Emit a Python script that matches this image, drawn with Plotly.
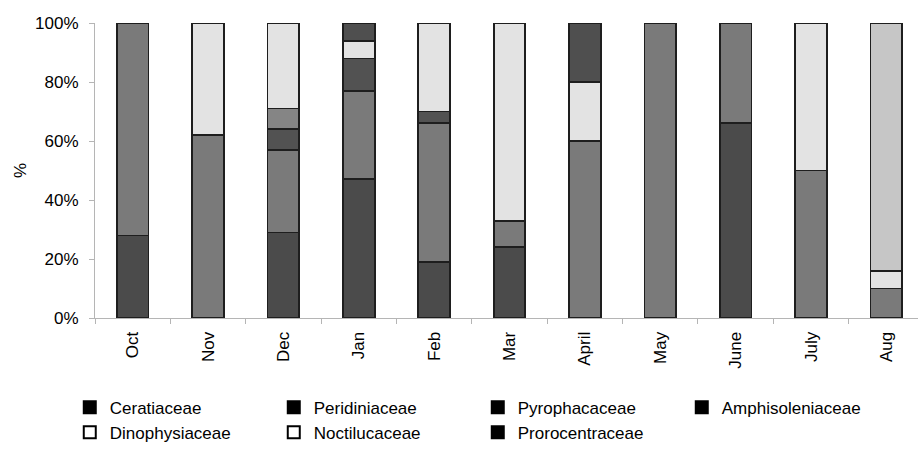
import plotly.graph_objects as go

months = ["Oct", "Nov", "Dec", "Jan", "Feb", "Mar", "April", "May", "June", "July", "Aug"]

ceratiaceae      = [28, 0, 29, 47, 19, 24, 0, 0, 66, 0, 0]
peridiniaceae    = [72, 62, 28, 30, 47, 9, 60, 100, 34, 50, 10]
pyrophacaceae    = [0, 0, 7, 11, 4, 0, 0, 0, 0, 0, 0]
amphisoleniaceae = [0, 0, 7, 0, 0, 0, 0, 0, 0, 0, 0]
dinophysiaceae   = [0, 38, 29, 6, 30, 67, 20, 0, 0, 50, 6]
noctilucaceae    = [0, 0, 0, 0, 0, 0, 0, 0, 0, 0, 84]
prorocentraceae  = [0, 0, 0, 6, 0, 0, 20, 0, 0, 0, 0]

y_ticks = [0, 20, 40, 60, 80, 100]
y_tick_labels = ["0%", "20%", "40%", "60%", "80%", "100%"]

series = [
    ("Ceratiaceae", ceratiaceae, "#4b4b4b", False),
    ("Peridiniaceae", peridiniaceae, "#7a7a7a", False),
    ("Pyrophacaceae", pyrophacaceae, "#525252", False),
    ("Amphisoleniaceae", amphisoleniaceae, "#858585", False),
    ("Dinophysiaceae", dinophysiaceae, "#e3e3e3", True),
    ("Noctilucaceae", noctilucaceae, "#c6c6c6", True),
    ("Prorocentraceae", prorocentraceae, "#4f4f4f", False),
]

fig = go.Figure()
for name, vals, col, light in series:
    fig.add_trace(go.Bar(
        x=months, y=vals, name=name, showlegend=False,
        marker=dict(color=col, line=dict(color="#1e1e1e", width=1.8)),
    ))

# legend entries (black / outlined squares as in the original)
for name, vals, col, light in series:
    fig.add_trace(go.Scatter(
        x=[None], y=[None], mode="markers", name=name,
        marker=dict(symbol="square-open" if light else "square",
                    color="black", size=12,
                    line=dict(color="black", width=2)),
    ))

font_family = "Arial, Liberation Sans, sans-serif"

fig.update_layout(
    width=918, height=451,
    margin=dict(l=95, r=0, t=23, b=133),
    paper_bgcolor="white", plot_bgcolor="white",
    barmode="stack", bargap=0.58,
    font=dict(family=font_family, size=17, color="black"),
    legend=dict(
        orientation="h", xref="container", yref="container",
        x=0.076, y=0.136, xanchor="left", yanchor="top",
        entrywidth=159, entrywidthmode="pixels", traceorder="normal",
        font=dict(size=17, family=font_family),
        itemwidth=30, tracegroupgap=0,
    ),
    xaxis=dict(
        range=[-0.5, 10.42], tickangle=-90, showline=True, linecolor="#b5b5b5",
        linewidth=1, ticks="outside", tickson="boundaries", tickcolor="#b5b5b5",
        ticklen=5, showgrid=False, ticklabelstandoff=6, automargin=False,
        tickfont=dict(size=17, family=font_family),
    ),
    yaxis=dict(
        range=[0, 100], tickvals=y_ticks, ticktext=y_tick_labels,
        showline=True, linecolor="#b5b5b5", linewidth=1, ticks="outside",
        tickcolor="#b5b5b5", ticklen=5, showgrid=False, zeroline=False,
        automargin=False, ticklabelstandoff=7,
        tickfont=dict(size=17, family=font_family),
        title=dict(text="%", standoff=4, font=dict(size=17)),
    ),
)

fig.write_html("out.html", config={"displayModeBar": False},
               post_script="document.body.style.margin='0px';")
